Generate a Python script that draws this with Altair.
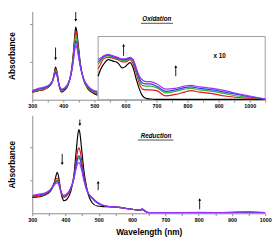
import altair as alt
import pandas as pd

SERIES = ["t0", "t1", "t2", "t3", "t4"]
COLORS = ["#000000", "#e8141b", "#2db82d", "#2f3ee0", "#9b30ff"]

# ---- Oxidation: main spectra (300-510 nm) ----
OX_NM = [300, 320, 340, 355, 365, 370, 375, 380, 385, 390, 395, 405, 415, 425,
         432, 437, 440, 443, 448, 455, 465, 480, 495, 510]
OX_T0 = [0.10, 0.12, 0.14, 0.18, 0.24, 0.33, 0.43, 0.36, 0.22, 0.13, 0.10, 0.13, 0.19, 0.35,
         0.60, 0.85, 0.96, 0.91, 0.73, 0.47, 0.27, 0.14, 0.09, 0.06]
OX_T1 = [0.10, 0.12, 0.14, 0.18, 0.24, 0.32, 0.41, 0.35, 0.22, 0.14, 0.11, 0.14, 0.20, 0.35,
         0.58, 0.81, 0.91, 0.87, 0.70, 0.46, 0.27, 0.15, 0.10, 0.08]
OX_T2 = [0.11, 0.13, 0.15, 0.19, 0.24, 0.31, 0.39, 0.34, 0.22, 0.15, 0.12, 0.15, 0.20, 0.34,
         0.55, 0.77, 0.85, 0.81, 0.66, 0.45, 0.27, 0.16, 0.11, 0.09]
OX_T3 = [0.11, 0.14, 0.16, 0.19, 0.25, 0.31, 0.37, 0.32, 0.22, 0.15, 0.13, 0.15, 0.21, 0.34,
         0.52, 0.71, 0.78, 0.75, 0.62, 0.44, 0.28, 0.17, 0.12, 0.10]
OX_T4 = [0.12, 0.15, 0.17, 0.20, 0.25, 0.30, 0.35, 0.31, 0.22, 0.16, 0.14, 0.16, 0.21, 0.33,
         0.50, 0.66, 0.72, 0.70, 0.59, 0.43, 0.28, 0.18, 0.13, 0.11]

# ---- Oxidation: x10 inset (512-1050 nm) ----
IN_NM = [512, 520, 530, 545, 560, 575, 590, 600, 615, 625, 635, 645, 655, 665, 680,
         700, 730, 760, 790, 810, 840, 880, 920, 960, 1000, 1050]
IN_T0 = [0.31, 0.40, 0.47, 0.53, 0.51, 0.49, 0.42, 0.44, 0.49, 0.42, 0.27, 0.14, 0.05, 0.02, 0.01,
         0.005, 0.005, 0.005, 0.005, 0.005, 0.005, 0.005, 0.005, 0.005, 0.005, 0.005]
IN_T1 = [0.41, 0.47, 0.54, 0.56, 0.55, 0.53, 0.50, 0.50, 0.53, 0.47, 0.35, 0.21, 0.14, 0.13, 0.13,
         0.12, 0.05, 0.07, 0.10, 0.12, 0.10, 0.08, 0.05, 0.03, 0.02, 0.01]
IN_T2 = [0.47, 0.51, 0.56, 0.58, 0.56, 0.54, 0.52, 0.52, 0.54, 0.50, 0.38, 0.25, 0.19, 0.18, 0.18,
         0.16, 0.09, 0.11, 0.14, 0.15, 0.13, 0.11, 0.08, 0.05, 0.03, 0.01]
IN_T3 = [0.50, 0.53, 0.57, 0.59, 0.57, 0.55, 0.53, 0.53, 0.55, 0.52, 0.40, 0.28, 0.22, 0.21, 0.21,
         0.18, 0.11, 0.13, 0.16, 0.17, 0.15, 0.13, 0.10, 0.07, 0.04, 0.01]
IN_T4 = [0.53, 0.55, 0.58, 0.60, 0.58, 0.56, 0.54, 0.54, 0.56, 0.53, 0.42, 0.31, 0.26, 0.24, 0.24,
         0.21, 0.14, 0.15, 0.18, 0.19, 0.17, 0.15, 0.12, 0.08, 0.05, 0.01]
INSET_BOX = [512, 1050, 0.0, 0.835]

# ---- Reduction spectra (300-1000 nm) ----
RE_NM = [300, 320, 340, 355, 365, 370, 375, 380, 385, 390, 395, 405, 415, 425, 432, 437, 440,
         443, 448, 455, 465, 480, 495, 520, 560, 600, 625, 630, 640, 650, 700, 800, 900, 950, 1000]
RE_T0 = [0.24, 0.25, 0.28, 0.34, 0.44, 0.54, 0.62, 0.53, 0.35, 0.24, 0.19, 0.22, 0.32, 0.57, 0.94,
         1.19, 1.27, 1.22, 0.99, 0.65, 0.35, 0.16, 0.11, 0.10, 0.09, 0.06, 0.05, 0.06, 0.03, 0.01,
         0.01, 0.01, 0.01, 0.01, 0.01]
RE_T1 = [0.25, 0.26, 0.29, 0.35, 0.45, 0.51, 0.53, 0.49, 0.36, 0.27, 0.24, 0.27, 0.36, 0.55, 0.80,
         0.96, 0.99, 0.96, 0.82, 0.58, 0.35, 0.23, 0.16, 0.11, 0.09, 0.06, 0.05, 0.06, 0.03, 0.01,
         0.01, 0.01, 0.01, 0.015, 0.01]
RE_T2 = [0.26, 0.28, 0.30, 0.36, 0.43, 0.48, 0.50, 0.46, 0.35, 0.28, 0.26, 0.29, 0.37, 0.53, 0.72,
         0.82, 0.84, 0.82, 0.72, 0.53, 0.34, 0.23, 0.16, 0.11, 0.09, 0.06, 0.05, 0.06, 0.03, 0.01,
         0.01, 0.015, 0.01, 0.02, 0.01]
RE_T3 = [0.26, 0.28, 0.30, 0.36, 0.43, 0.47, 0.49, 0.45, 0.35, 0.28, 0.26, 0.29, 0.37, 0.53, 0.74,
         0.85, 0.87, 0.85, 0.74, 0.54, 0.34, 0.23, 0.16, 0.11, 0.09, 0.06, 0.05, 0.06, 0.03, 0.01,
         0.01, 0.01, 0.015, 0.02, 0.01]
RE_T4 = [0.27, 0.29, 0.31, 0.36, 0.42, 0.45, 0.46, 0.43, 0.35, 0.29, 0.27, 0.30, 0.38, 0.52, 0.68,
         0.76, 0.77, 0.75, 0.66, 0.50, 0.33, 0.24, 0.17, 0.11, 0.09, 0.06, 0.05, 0.07, 0.03, 0.01,
         0.01, 0.01, 0.015, 0.02, 0.01]

# ---- axis ticks (labels only on the hundreds) ----
OX_XTICKS = [300, 350, 400, 450, 500, 550, 600, 650, 700, 750, 800, 850, 900, 950, 1000, 1050]
RE_XTICKS = [300, 350, 400, 450, 500, 550, 600, 650, 700, 750, 800, 850, 900, 950, 1000]

# ---- arrows: nm, tail value, head value ----
OX_ARROWS_NM = [375, 440, 594, 762]
OX_ARROWS_FROM = [0.69, 1.16, 0.58, 0.31]
OX_ARROWS_TO = [0.54, 1.05, 0.72, 0.44]
RE_ARROWS_NM = [390, 443, 498, 803]
RE_ARROWS_FROM = [0.90, 1.42, 0.35, 0.06]
RE_ARROWS_TO = [0.75, 1.34, 0.47, 0.21]

OX_TITLE = ["Oxidation", 701, 1.06, 650, 753, 1.01]
X10_LABEL = ["x 10", 903, 0.58]
RE_TITLE = ["Reduction", 672, 1.17, 617, 724, 1.11]


def long_df(nm, arrays):
    rows = []
    for s, arr in zip(SERIES, arrays):
        for w, v in zip(nm, arr):
            rows.append({"nm": w, "a": v, "s": s})
    return pd.DataFrame(rows)


def arrow_df(nm, a_from, a_to):
    return pd.DataFrame({"nm": nm, "a": a_from, "a2": a_to,
                         "shape": ["triangle-down" if t < f else "triangle-up"
                                   for f, t in zip(a_from, a_to)]})


ox_main = long_df(OX_NM, [OX_T0, OX_T1, OX_T2, OX_T3, OX_T4])
ox_inset = long_df(IN_NM, [IN_T0, IN_T1, IN_T2, IN_T3, IN_T4])
re_main = long_df(RE_NM, [RE_T0, RE_T1, RE_T2, RE_T3, RE_T4])

FONT = "Liberation Sans"
color = alt.Color("s:N", scale=alt.Scale(domain=SERIES, range=COLORS), legend=None)


def panel(main_df, x_dom, xticks, y_dom, y_ticks, x_title, h, arrows, title, extra=None):
    x = alt.X("nm:Q", scale=alt.Scale(domain=x_dom, nice=False, zero=False),
              axis=alt.Axis(values=xticks, tickCount=40, labelOverlap=False, labelFlush=False,
                            labelExpr="datum.value % 100 == 0 ? datum.label : ''",
                            title=x_title, grid=False, format="d"))
    y = alt.Y("a:Q", scale=alt.Scale(domain=y_dom, nice=False, zero=False),
              axis=alt.Axis(values=y_ticks, tickCount=10, labels=False, title="Absorbance",
                            grid=False, titlePadding=13))
    layers = [alt.Chart(main_df).mark_line(strokeWidth=1.2, clip=True,
                                           interpolate="monotone").encode(
        x=x, y=y, color=color, order=alt.Order("nm:Q"))]
    if extra is not None:
        layers += extra(x, y)
    adf = arrow_df(*arrows)
    layers.append(alt.Chart(adf).mark_rule(color="black", strokeWidth=0.9).encode(
        x=x, y=y, y2="a2:Q"))
    layers.append(alt.Chart(adf).mark_point(filled=True, color="black", size=9, opacity=1).encode(
        x=x, y=alt.Y("a2:Q"), shape=alt.Shape("shape:N", scale=None)))
    tdf = pd.DataFrame({"t": [title[0]], "nm": [title[1]], "a": [title[2]],
                        "n1": [title[3]], "n2": [title[4]], "u": [title[5]]})
    layers.append(alt.Chart(tdf).mark_text(font=FONT, fontSize=6.5, fontWeight="bold",
                                           fontStyle="italic", color="black").encode(
        x=x, y=y, text="t:N"))
    layers.append(alt.Chart(tdf).mark_rule(color="black", strokeWidth=0.7).encode(
        x=alt.X("n1:Q"), x2="n2:Q", y=alt.Y("u:Q")))
    return alt.layer(*layers).properties(width=240, height=h)


def inset_layers(x, y):
    box = pd.DataFrame({"nm": [INSET_BOX[0]], "nm2": [INSET_BOX[1]],
                        "a": [INSET_BOX[2]], "a2": [INSET_BOX[3]]})
    lab = pd.DataFrame({"t": [X10_LABEL[0]], "nm": [X10_LABEL[1]], "a": [X10_LABEL[2]]})
    return [
        alt.Chart(box).mark_rect(fill="white", stroke="#9a9a9a", strokeWidth=1).encode(
            x=x, x2="nm2:Q", y=y, y2="a2:Q"),
        alt.Chart(ox_inset).mark_line(strokeWidth=1.2, interpolate="monotone").encode(
            x=x, y=y, color=color, order=alt.Order("nm:Q")),
        alt.Chart(lab).mark_text(font=FONT, fontSize=6.5, fontWeight="bold", color="black").encode(
            x=x, y=y, text="t:N"),
    ]


top = panel(ox_main, [300, 1050], OX_XTICKS, [0, 1.167], [0.5, 1.0], None, 91,
            (OX_ARROWS_NM, OX_ARROWS_FROM, OX_ARROWS_TO), OX_TITLE, extra=inset_layers)
bottom = panel(re_main, [300, 1000], RE_XTICKS, [0, 1.485], [0.5, 1.0], "Wavelength (nm)", 101,
               (RE_ARROWS_NM, RE_ARROWS_FROM, RE_ARROWS_TO), RE_TITLE)

chart = alt.vconcat(top, bottom, spacing=6).resolve_scale(
    x="independent", y="independent").properties(
    padding={"left": 0, "top": 0, "right": 0, "bottom": 0}
).configure_view(stroke=None).configure_axis(
    domainColor="#8c8c8c", tickColor="#8c8c8c", tickSize=2.5, labelFont=FONT,
    labelFontSize=5.5, labelFontWeight="bold", labelColor="black", labelPadding=2,
    labelOverlap=False,
    titleFont=FONT, titleFontSize=8.5, titleFontWeight="bold", titleColor="black",
    domainWidth=1, tickWidth=1
).configure_axisX(titlePadding=5)

chart.save("out.html", embed_options={"renderer": "svg", "actions": False})
